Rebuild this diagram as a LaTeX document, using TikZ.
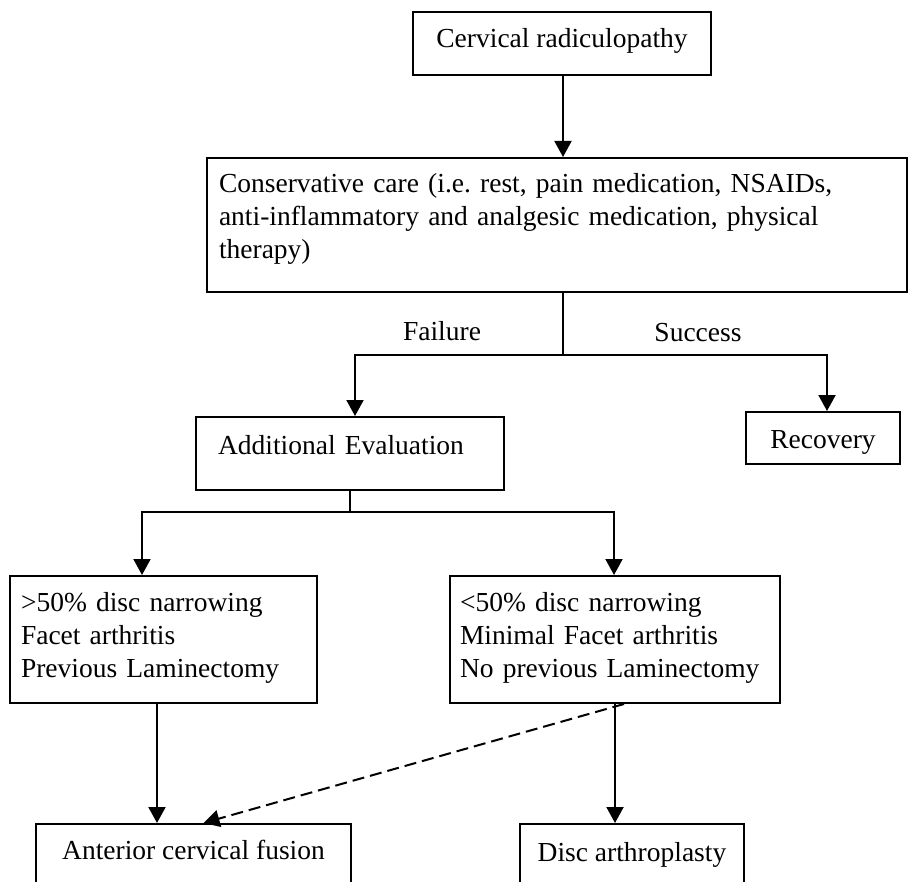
\documentclass[tikz,border=0pt]{standalone}
\usepackage{fontspec}
\setmainfont{Liberation Serif}
\usetikzlibrary{arrows.meta}
\frenchspacing

\begin{document}
\begin{tikzpicture}[x=1pt, y=-1pt, line width=2pt,
		font=\fontsize{27.5}{33}\selectfont,
		box/.style={draw, anchor=north west, inner ysep=10pt},
		arr/.style={-{Triangle[length=16pt, width=17pt]}}]
				\clip (0,0) rectangle (910,882);
				
				%boxes
				\node[box, minimum width=298pt, text height=26pt, text depth=17pt] (radic) at (412,11) {Cervical radiculopathy};
				\node[box, text width=676pt, inner xsep=12pt, align=left, text height=25pt, text depth=89pt] (care) at (206,157)
					{Conservative care (i.e. rest, pain medication, NSAIDs,\\ anti-inflammatory and analgesic medication, physical\\ therapy)};
				\node[box, text width=264pt, inner xsep=22pt, align=left, text height=27pt, text depth=26pt] (eval) at (195,416) {Additional Evaluation};
				\node[box, minimum width=154pt, text height=26pt, text depth=6pt] (recov) at (745,411) {Recovery};
				\node[box, text width=285pt, inner xsep=11pt, align=left, text height=25pt, text depth=82pt] (more) at (9,575)
					{>50\% disc narrowing\\ Facet arthritis\\ Previous Laminectomy};
				\node[box, text width=310pt, inner xsep=10pt, align=left, text height=25pt, text depth=82pt] (less) at (449,575)
					{<50\% disc narrowing\\ Minimal Facet arthritis\\ No previous Laminectomy};
				\node[box, minimum width=315pt, text height=25pt, text depth=40pt] (fusion) at (35,823) {Anterior cervical fusion};
				\node[box, minimum width=224pt, text height=27pt, text depth=40pt] (disc) at (519,823) {Disc arthroplasty};
				
				%outcome labels
				\node (fail) at (442,331) {Failure};
				\node (succ) at (698,333) {Success};
				
				%first split
				\coordinate (s1) at (563,355);
				\coordinate (fl) at (355,355);
				\coordinate (sc) at (827,355);
				\draw[arr] (radic.south -| s1) -- (care.north -| s1);
				\draw (care.south -| s1) -- (s1);
				\draw[arr] (s1) -- (fl) -- (fl |- eval.north);
				\draw[arr] (s1) -- (sc) -- (sc |- recov.north);
				
				%second split
				\coordinate (s2) at (350,512);
				\coordinate (gt) at (142,512);
				\coordinate (lt) at (614,512);
				\draw (eval.south -| s2) -- (s2);
				\draw[arr] (s2) -- (gt) -- (gt |- more.north);
				\draw[arr] (s2) -- (lt) -- (lt |- less.north);
				
				%surgery
				\coordinate (m1) at ([xshift=-6.5pt]more.south);
				\draw[arr] (m1) -- (m1 |- fusion.north);
				\draw[arr] (less.south) -- (less.south |- disc.north);
				\draw[arr, dash pattern=on 12pt off 6pt] ([xshift=9pt]less.south) -- ([xshift=10pt]fusion.north);
			\end{tikzpicture}
\end{document}
